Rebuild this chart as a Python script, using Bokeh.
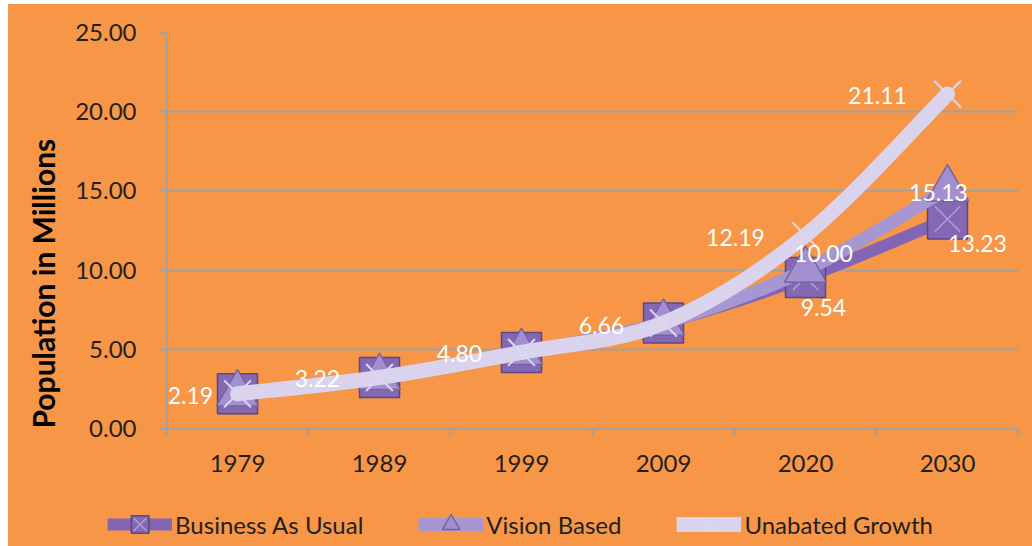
from bokeh.plotting import figure
from bokeh.layouts import column
from bokeh.models import (Range1d, FixedTicker, Legend, LegendItem, ColumnDataSource,
                          CustomJSTickFormatter, NumeralTickFormatter, LabelSet, Title)
from bokeh.core.properties import value
from bokeh.embed import file_html
from bokeh.resources import INLINE

# ---- data -------------------------------------------------------------
years = ["1979", "1989", "1999", "2009", "2020", "2030"]
business_as_usual = [2.19, 3.22, 4.80, 6.66, 9.54, 13.23]
vision_based = [2.19, 3.22, 4.80, 6.66, 10.00, 15.13]
unabated_growth = [2.19, 3.22, 4.80, 6.66, 12.19, 21.11]
y_ticks = [0, 5, 10, 15, 20, 25]

# ---- style ------------------------------------------------------------
FONT = "Lato"
BG = "#F79646"
GRID = "#A3A09C"
TEXT = "#231F1C"

# label placement (pixel offsets from the point, +dy = down; None = no label)
business_label_offsets = [None, None, None, None, (18, 30), (30, 25)]
vision_label_offsets = [None, None, None, None, (18, -17), (-9, 4)]
unabated_label_offsets = [(-47, 2), (-62, 1), (-62, 1), (-62, 2), (-70, 2), (-70, 1)]

n = len(years)
xs = [i + 0.5 for i in range(n)]


def smooth_segments(x, y):
    """Cubic Bezier segments (Catmull-Rom style) through the points."""
    m = len(x)
    seg = dict(x0=[], y0=[], x1=[], y1=[], cx0=[], cy0=[], cx1=[], cy1=[])
    for i in range(m - 1):
        a, b = max(i - 1, 0), min(i + 2, m - 1)
        seg["x0"].append(x[i]); seg["y0"].append(y[i])
        seg["x1"].append(x[i + 1]); seg["y1"].append(y[i + 1])
        seg["cx0"].append(x[i] + (x[i + 1] - x[a]) / 6)
        seg["cy0"].append(y[i] + (y[i + 1] - y[a]) / 6)
        seg["cx1"].append(x[i + 1] - (x[b] - x[i]) / 6)
        seg["cy1"].append(y[i + 1] - (y[b] - y[i]) / 6)
    return ColumnDataSource(seg)


p = figure(frame_width=852, frame_height=396, margin=0,
           x_range=Range1d(0, n), y_range=Range1d(0, 25),
           output_backend="svg", toolbar_location=None,
           min_border_left=158, min_border_right=14, min_border_top=28,
           min_border_bottom=74)
p.background_fill_color = BG
p.border_fill_color = BG
p.outline_line_color = None

# grid
p.xgrid.grid_line_color = None
p.ygrid.grid_line_color = GRID
p.ygrid.grid_line_width = 2
p.ygrid.ticker = FixedTicker(ticks=y_ticks)

# y axis
p.yaxis.ticker = FixedTicker(ticks=y_ticks)
p.yaxis.formatter = NumeralTickFormatter(format="0.00")
p.yaxis.axis_line_color = GRID
p.yaxis.axis_line_width = 2
p.yaxis.major_tick_line_color = GRID
p.yaxis.major_tick_line_width = 2
p.yaxis.major_tick_out = 7
p.yaxis.major_tick_in = 0
p.yaxis.minor_tick_line_color = None
p.yaxis.major_label_standoff = 23
p.yaxis.major_label_text_font = FONT
p.yaxis.major_label_text_font_size = "24px"
p.yaxis.major_label_text_color = TEXT

# y axis title, starting at the bottom of the plot area
p.add_layout(Title(text="Population in Millions", align="left",
                   text_font=FONT, text_font_style="bold", text_font_size="30px",
                   text_color="#000000", standoff=24), "left")

# x axis: labels centred on categories, tick marks on category boundaries
p.xaxis.ticker = FixedTicker(ticks=xs, minor_ticks=list(range(n + 1)))
p.xaxis.formatter = CustomJSTickFormatter(args=dict(labels=years),
                                          code="return labels[Math.floor(tick)];")
p.xaxis.axis_line_color = GRID
p.xaxis.axis_line_width = 2
p.xaxis.major_tick_line_color = None
p.xaxis.minor_tick_line_color = GRID
p.xaxis.minor_tick_line_width = 2
p.xaxis.minor_tick_out = 7
p.xaxis.minor_tick_in = 0
p.xaxis.major_label_standoff = 19
p.xaxis.major_label_text_font = FONT
p.xaxis.major_label_text_font_size = "24px"
p.xaxis.major_label_text_color = TEXT

series = [
    dict(name="Business As Usual", values=business_as_usual, offsets=business_label_offsets,
         line="#8465B5", width=12, marker="square", fill="#8468B4", edge="#5B4785",
         bevel="#BBAADF", size=40),
    dict(name="Vision Based", values=vision_based, offsets=vision_label_offsets,
         line="#A697D3", width=13, marker="triangle", fill="#A38FCF", edge="#7563A3",
         bevel=None, size=42),
    dict(name="Unabated Growth", values=unabated_growth, offsets=unabated_label_offsets,
         line="#D9D3EE", width=15, marker="x", fill=None, edge="#DCD6EE",
         bevel=None, size=38),
]

# strip below the chart that carries the legend
leg = figure(width=1024, height=44, margin=0, x_axis_type=None, y_axis_type=None,
             x_range=Range1d(0, 1), y_range=Range1d(0, 1),
             output_backend="svg", toolbar_location=None, min_border=0)
leg.background_fill_color = None
leg.border_fill_color = None
leg.outline_line_color = None
leg.xgrid.visible = False
leg.ygrid.visible = False


def add_marker(fig, s, x, y):
    if s["marker"] == "x":
        return [fig.scatter(x, y, marker="x", size=s["size"], line_color=s["edge"], line_width=2)]
    out = [fig.scatter(x, y, marker=s["marker"], size=s["size"], fill_color=s["fill"],
                       line_color=s["edge"], line_width=1.5)]
    if s["bevel"]:
        out.append(fig.scatter(x, y, marker="x", size=s["size"] - 4, line_color=s["bevel"],
                               line_width=1.5, line_alpha=0.8))
    return out


items = []
label_x, label_y, label_t, label_dx, label_dy = [], [], [], [], []
nan = float("nan")
for s in series:
    p.bezier(x0="x0", y0="y0", x1="x1", y1="y1", cx0="cx0", cy0="cy0", cx1="cx1", cy1="cy1",
             source=smooth_segments(xs, s["values"]), line_color=s["line"],
             line_width=s["width"], line_cap="round")
    add_marker(p, s, xs, s["values"])

    # legend keys: a line swatch plus the series marker
    key_line = leg.line(x=[nan], y=[nan], line_color=s["line"], line_width=s["width"])
    key_marks = add_marker(leg, s, [nan], [nan])
    items.append(LegendItem(label=s["name"], renderers=[key_line] + key_marks))

    for xv, yv, off in zip(xs, s["values"], s["offsets"]):
        if off is None:
            continue
        label_x.append(xv); label_y.append(yv); label_t.append(f"{yv:.2f}")
        label_dx.append(off[0]); label_dy.append(-off[1])

labels = ColumnDataSource(dict(x=label_x, y=label_y, t=label_t, dx=label_dx, dy=label_dy))
p.add_layout(LabelSet(x="x", y="y", text="t", source=labels, x_offset="dx", y_offset="dy",
                      text_color="white", text_font=value(FONT), text_font_size="23px",
                      text_align="center", text_baseline="middle"))

legend = Legend(items=items, orientation="horizontal", location="center",
                background_fill_alpha=0, border_line_color=None,
                label_text_font=FONT, label_text_font_size="24px",
                label_text_color=TEXT, glyph_width=65, glyph_height=44,
                spacing=55, label_standoff=3, padding=0, margin=0)
leg.add_layout(legend, "center")

layout = column(p, column(leg, margin=0), spacing=0, margin=(4, 0, 0, 8),
                styles={"background-color": BG})
open("out.html", "w").write(file_html(layout, INLINE))
